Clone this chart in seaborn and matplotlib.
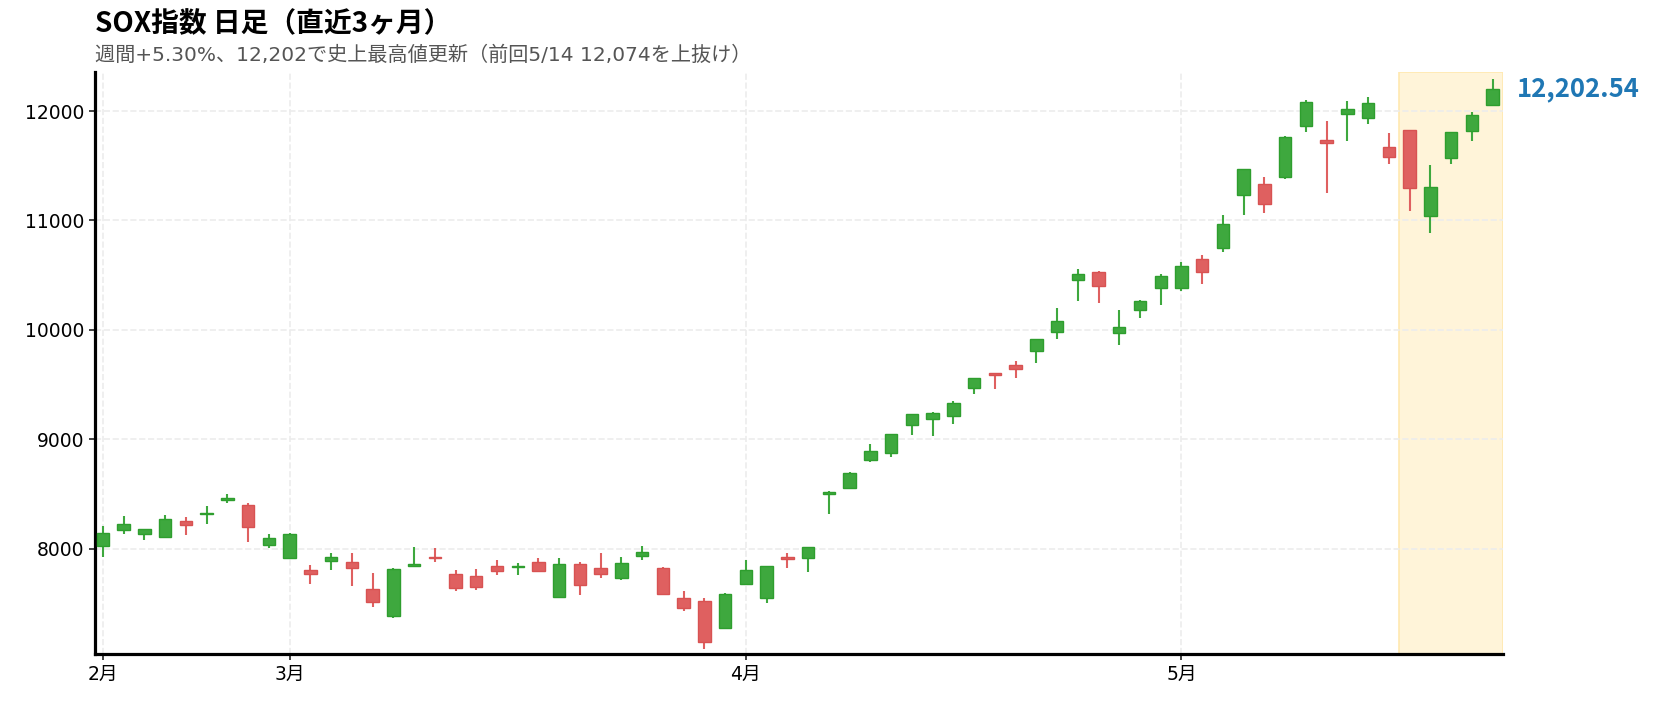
import numpy as np
import pandas as pd
import seaborn as sns
import matplotlib.pyplot as plt

# SOX daily candles (2026-02-17 .. 2026-05-22, Good Friday closed)
opens = [8022, 8168, 8132, 8104, 8250, 8314, 8442, 8402, 8031, 7915,
         7808, 7885, 7881, 7634, 7382, 7842, 7924, 7772, 7748, 7845,
         7830, 7881, 7558, 7863, 7826, 7732, 7933, 7826, 7552, 7525,
         7275, 7677, 7547, 7924, 7912, 8497, 8552, 8808, 8872, 9128,
         9183, 9210, 9466, 9603, 9676, 9804, 9978, 10456, 10532, 9971,
         10182, 10380, 10380, 10651, 10746, 11230, 11331, 11395, 11861, 11733,
         11970, 11934, 11669, 11824, 11041, 11568, 11815, 12053]
highs = [8207, 8299, 8180, 8308, 8287, 8390, 8500, 8418, 8134, 8140,
         7851, 7961, 7961, 7778, 7820, 8016, 8006, 7806, 7815, 7897,
         7867, 7915, 7915, 7876, 7961, 7924, 8025, 7830, 7613, 7547,
         7592, 7897, 7842, 7961, 8016, 8527, 8701, 8957, 9050, 9232,
         9249, 9350, 9560, 9606, 9716, 9917, 10200, 10556, 10535, 10182,
         10270, 10511, 10618, 10682, 11050, 11471, 11397, 11770, 12101, 11909,
         12092, 12128, 11800, 11827, 11507, 11810, 11991, 12293]
lows = [7927, 8137, 8080, 8100, 8125, 8228, 8420, 8064, 8009, 7912,
        7680, 7808, 7662, 7470, 7369, 7840, 7881, 7616, 7625, 7762,
        7762, 7793, 7555, 7580, 7735, 7717, 7899, 7583, 7431, 7086,
        7272, 7675, 7506, 7826, 7790, 8320, 8549, 8795, 8841, 9039,
        9030, 9143, 9417, 9460, 9563, 9700, 9919, 10267, 10249, 9865,
        10111, 10230, 10358, 10422, 10715, 11050, 11071, 11382, 11811, 11254,
        11727, 11885, 11519, 11089, 10888, 11519, 11729, 12050]
closes = [8141, 8223, 8177, 8269, 8214, 8329, 8466, 8198, 8101, 8137,
          7769, 7921, 7824, 7513, 7817, 7863, 7912, 7638, 7650, 7796,
          7842, 7796, 7863, 7668, 7769, 7872, 7970, 7586, 7458, 7146,
          7589, 7808, 7839, 7909, 8013, 8515, 8689, 8890, 9046, 9228,
          9237, 9329, 9557, 9590, 9640, 9914, 10078, 10508, 10401, 10029,
          10267, 10495, 10587, 10526, 10971, 11468, 11148, 11766, 12080, 11705,
          12015, 12074, 11577, 11294, 11303, 11806, 11961, 12202.54]

title = "SOX指数 日足（直近3ヶ月）"
subtitle = "週間+5.30%、12,202で史上最高値更新（前回5/14 12,074を上抜け）"
last_label = "12,202.54"

dates = pd.bdate_range("2026-02-17", "2026-05-22")
dates = dates[dates != pd.Timestamp("2026-04-03")]
df = pd.DataFrame({"date": dates, "open": opens, "high": highs,
                   "low": lows, "close": closes})
df["x"] = np.arange(len(df))
df["up"] = df["close"] >= df["open"]

sns.set_theme(style="ticks")
plt.rcParams["font.family"] = ["Noto Sans CJK JP", "DejaVu Sans"]
latin_first = ["DejaVu Sans", "Noto Sans CJK JP"]

fill = np.where(df["up"], "#3ea83e", "#df6060")
edge = np.where(df["up"], "#2e9e2e", "#d85252")

fig = plt.figure(figsize=(16.6, 7.03), dpi=100)
ax = fig.add_axes([0.057, 0.0693, 0.8484, 0.8283])

# highlight last week
ax.axvspan(62.5, 67.5, facecolor="#fff4d9", edgecolor="#ffe9b0",
           linewidth=1.2, zorder=0)

ax.vlines(df["x"], df["low"], df["high"], colors=fill, linewidth=1.5,
          zorder=2)
body_lo = df[["open", "close"]].min(axis=1)
body_h = (df["close"] - df["open"]).abs().clip(lower=12)
ax.bar(df["x"], body_h, bottom=body_lo, width=0.6, color=fill,
       edgecolor=edge, linewidth=1, zorder=3)

# month ticks at first trading day of each month
first_idx = df.groupby(df["date"].dt.month)["x"].min()
ax.set_xticks(first_idx.values)
ax.set_xticklabels([f"{m}月" for m in first_idx.index])
ax.set_yticks([8000, 9000, 10000, 11000, 12000])

ax.set_xlim(-0.4, 67.5)
ax.set_ylim(7035, 12357)

ax.grid(True, linestyle="--", color="#ececec", linewidth=1.2, zorder=0)
ax.set_axisbelow(True)
sns.despine(ax=ax)
for side in ["left", "bottom"]:
    ax.spines[side].set_linewidth(2.3)
    ax.spines[side].set_color("black")
ax.tick_params(axis="both", labelsize=13.5, colors="#222222",
               labelcolor="black", length=4, width=1.2)
for lbl in ax.get_xticklabels() + ax.get_yticklabels():
    lbl.set_family(latin_first)

ax.annotate(last_label, xy=(1, df["close"].iloc[-1]),
            xycoords=("axes fraction", "data"), xytext=(10, 0),
            textcoords="offset points", ha="left", va="center",
            fontsize=18.5, fontweight="bold", color="#1f77b4")

fig.text(0.057, 0.9654, title, fontsize=20, fontweight="bold",
         ha="left", va="center", color="black")
fig.text(0.057, 0.922, subtitle, fontsize=14.5, ha="left", va="center",
         color="#555555", family=latin_first)

fig.savefig("out.png", dpi=100)
